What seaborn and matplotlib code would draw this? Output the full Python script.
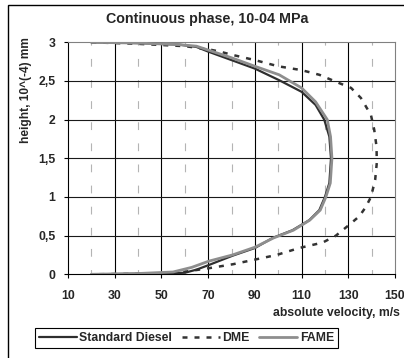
import numpy as np
import pandas as pd
import matplotlib
matplotlib.use("Agg")
import matplotlib.pyplot as plt
from matplotlib.patches import Rectangle
from matplotlib.ticker import FixedLocator, MultipleLocator, FuncFormatter
import seaborn as sns

# Velocity profiles (absolute velocity in m/s vs. height in 10^-4 mm)
diesel_v = [20, 40, 57.6, 65, 70, 80, 90, 100.4, 110, 116, 119.7, 121.9, 122.6,
            121.9, 120, 117.6, 113.3, 106.1, 97.6, 90, 80.4, 70.3, 65, 60, 50, 20]
diesel_h = [3.0, 2.99, 2.97, 2.94, 2.88, 2.77, 2.66, 2.51, 2.36, 2.19, 2.0, 1.78, 1.5,
            1.18, 1.0, 0.83, 0.70, 0.57, 0.47, 0.34, 0.24, 0.12, 0.06, 0.02, 0.01, 0.0]

dme_v = [20, 40, 60, 70, 75, 80, 90, 100, 110, 117.6, 124.7, 131.2, 135.4, 139.7,
         141.1, 142.1, 142.2, 141.5, 139.7, 137.5, 134.7, 130.4, 124.7, 119, 109,
         99.3, 90, 80.6, 70.6, 59.3, 50, 20]
dme_h = [3.0, 2.98, 2.95, 2.91, 2.88, 2.84, 2.77, 2.69, 2.64, 2.58, 2.49, 2.41, 2.28, 2.06,
         1.87, 1.65, 1.44, 1.22, 1.0, 0.87, 0.75, 0.64, 0.5, 0.41, 0.34,
         0.25, 0.19, 0.13, 0.08, 0.03, 0.01, 0.0]

fame_v = [20, 40, 57.6, 65, 70, 80, 90, 100.4, 110, 116, 121, 122.4, 123,
          122.3, 120.4, 118, 113.5, 106.5, 98, 90, 80.4, 70.3, 63, 55, 40, 20]
fame_h = [3.0, 2.99, 2.97, 2.95, 2.90, 2.80, 2.69, 2.58, 2.41, 2.23, 2.0, 1.78, 1.5,
          1.18, 1.0, 0.83, 0.70, 0.57, 0.47, 0.35, 0.25, 0.17, 0.09, 0.03, 0.01, 0.0]

series_names = ["Standard Diesel", "DME", "FAME"]
x_ticks = [10, 30, 50, 70, 90, 110, 130, 150]

sns.set_style("white")
plt.rcParams["font.family"] = ["Liberation Sans", "DejaVu Sans"]
plt.rcParams["font.weight"] = "bold"

W, H = 404, 358
fig = plt.figure(figsize=(W / 100, H / 100), dpi=100)
fig.patch.set_facecolor("white")

# axes placed in pixel terms
left, right, top, bottom = 68, 395, 42.3, 274.3
ax = fig.add_axes([left / W, 1 - bottom / H, (right - left) / W, (bottom - top) / H])

frames = []
for name, v, h in zip(series_names, [diesel_v, dme_v, fame_v], [diesel_h, dme_h, fame_h]):
    frames.append(pd.DataFrame({"velocity": v, "height": h, "fuel": name}))
df = pd.concat(frames, ignore_index=True)

styles = {
    "Standard Diesel": dict(color="#2e2e2e", lw=1.6, ls="-", z=4),
    "DME": dict(color="#333333", lw=1.8, ls=(0, (2.0, 2.8)), z=3),
    "FAME": dict(color="#8e8e8e", lw=2.0, ls="-", z=5),
}

# minor (dashed) vertical grid and major grid lines
for xv in range(20, 150, 20):
    ax.axvline(xv, color="#b4b4b4", lw=0.8, ls=(3, (7, 12)), zorder=1)
for xv in x_ticks[1:-1]:
    ax.axvline(xv, color="#000000", lw=0.8, zorder=1)
for yv in np.arange(0.5, 3.0, 0.5):
    ax.axhline(yv, color="#1a1a1a", lw=0.8, zorder=1)

for name in series_names:
    st = styles[name]
    sub = df[df["fuel"] == name]
    sns.lineplot(data=sub, x="velocity", y="height", sort=False, estimator=None,
                 ax=ax, color=st["color"], lw=st["lw"], linestyle=st["ls"],
                 zorder=st["z"], label=name, legend=False)

ax.set_xlim(10, 150)
ax.set_ylim(0, 3)
ax.xaxis.set_major_locator(FixedLocator(x_ticks))
ax.yaxis.set_major_locator(MultipleLocator(0.5))
ax.yaxis.set_major_formatter(FuncFormatter(
    lambda val, pos: ("%g" % round(val, 2)).replace(".", ",")))

for side in ["top", "right"]:
    ax.spines[side].set_color("#808080")
    ax.spines[side].set_linewidth(0.8)
for side in ["left", "bottom"]:
    ax.spines[side].set_color("#000000")
    ax.spines[side].set_linewidth(0.8)

ax.tick_params(axis="x", which="major", direction="out", length=3, width=0.8,
               color="black", pad=8.5, labelsize=8.8, bottom=True)
ax.tick_params(axis="y", which="major", direction="out", length=3, width=0.8,
               color="black", pad=6, labelsize=8.8, left=True)
for lab in ax.get_xticklabels() + ax.get_yticklabels():
    lab.set_fontweight("bold")
ax.set_xlabel("")
ax.set_ylabel("")

fig.text(207 / W, 1 - 18.5 / H, "Continuous phase, 10-04 MPa", ha="center", va="center",
         fontsize=10.3, fontweight="bold")
fig.text(26 / W, 1 - 90 / H, "height, 10^(-4) mm", ha="center", va="center",
         rotation=90, fontsize=8.6, fontweight="bold")
fig.text(273 / W, 1 - 313 / H, "absolute velocity, m/s", ha="left", va="center",
         fontsize=8.8, fontweight="bold")

handles, labels = ax.get_legend_handles_labels()
leg = fig.legend(handles, labels, loc="center",
                 bbox_to_anchor=(186.5 / W, 1 - 338 / H), ncol=3,
                 frameon=True, fancybox=False, edgecolor="black", framealpha=1,
                 prop={"size": 8.8, "weight": "bold"}, handlelength=3.1,
                 handletextpad=0.2, columnspacing=0.8, borderpad=0.3,
                 borderaxespad=0)
leg.get_frame().set_linewidth(0.8)

# outer chart frame
fig.add_artist(Rectangle((8 / W, -0.2), 1.2, 1.2 - 5 / H, transform=fig.transFigure,
                         fill=False, edgecolor="black", lw=1.0))

fig.savefig("out.png", dpi=100, facecolor="white")
